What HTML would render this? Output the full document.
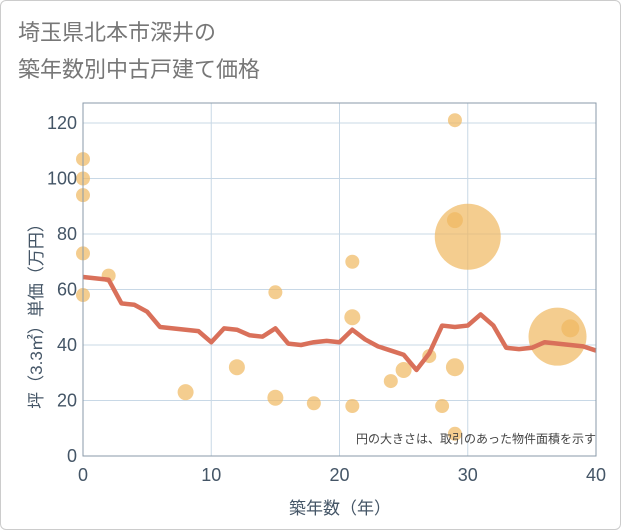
<!DOCTYPE html>
<html><head><meta charset="utf-8"><style>
body{margin:0;background:#fff;font-family:"Liberation Sans","Noto Sans CJK JP",sans-serif}
#wrap{position:relative;width:619px;height:528px;border:1px solid #ccc;border-radius:6px;overflow:hidden}
</style></head><body>
<div id="wrap">
<svg id="c" width="621" height="530" style="position:absolute;left:-1px;top:-1px">
<text x="18" y="40" font-size="22" fill="#777">埼玉県北本市深井の</text>
<text x="18" y="77" font-size="22" fill="#777">築年数別中古戸建て価格</text>
<g id="grid"></g><g id="bub"></g><g id="ln"></g><g id="ax"></g>
<rect x="83" y="103" width="513" height="353" fill="none" stroke="#8a9aa8" stroke-width="1"/>
<text x="596" y="443" font-size="12" fill="#444" text-anchor="end">円の大きさは、取引のあった物件面積を示す</text>
<text x="340" y="514" font-size="17" fill="#445566" text-anchor="middle">築年数（年）</text>
<text transform="translate(42,312) rotate(-90)" font-size="17" fill="#445566" text-anchor="middle">坪（3.3㎡）単価（万円）</text>
</svg></div>
<script>
const xTicks=[0,10,20,30,40];
const yTicks=[0,20,40,60,80,100,120];
const lineAge=[0,1,2,3,4,5,6,7,8,9,10,11,12,13,14,15,16,17,18,19,20,21,22,23,24,25,26,27,28,29,30,31,32,33,34,35,36,37,38,39,40];
const linePrice=[64.5,64,63.5,55,54.5,52,46.5,46,45.5,45,41,46,45.5,43.5,43,46,40.5,40,41,41.5,41,45.5,42,39.5,38,36.5,31,37,47,46.5,47,51,47,39,38.5,39,41,40.5,40,39.5,38];
const bubAge=[0,0,0,0,0,2,8,12,15,15,18,21,21,21,24,25,27,28,29,29,29,29,30,37,38];
const bubPrice=[107,100,94,73,58,65,23,32,59,21,19,70,50,18,27,31,36,18,121,85,32,8,79,43,46];
const bubR=[7,7,7,7,7,7,8,8,7,8,7,7,8,7,7,8,7,7,7,8,9,7,33,29,9];
const X=v=>83+v*12.825, Y=v=>456-v*2.775;
const NS='http://www.w3.org/2000/svg';
function mk(p,t,a){const e=document.createElementNS(NS,t);for(const k in a)e.setAttribute(k,a[k]);document.getElementById(p).appendChild(e);return e;}
xTicks.forEach(t=>{
 const g=mk('grid','line',{x1:X(t),x2:X(t),y1:103,y2:456,stroke:'#c8d8e6'});
 
 
 const l=mk('ax','text',{x:X(t),y:481,'font-size':18,fill:'#445566','text-anchor':'middle'});l.textContent=t;
 
 
});
yTicks.forEach(t=>{
 const g=mk('grid','line',{x1:83,x2:596,y1:Y(t),y2:Y(t),stroke:'#c8d8e6'});
 
 
 const l=mk('ax','text',{x:77,y:Y(t)+6,'font-size':18,fill:'#445566','text-anchor':'end'});l.textContent=t;
 
 
});
bubAge.forEach((a,i)=>{
 const c=mk('bub','circle',{cx:X(a),cy:Y(bubPrice[i]),r:bubR[i],fill:'#f0b860','fill-opacity':0.7});
 
 
});
const p=mk('ln','polyline',{points:lineAge.map((a,i)=>X(a)+','+Y(linePrice[i])).join(' '),fill:'none',stroke:'#d9705a','stroke-width':4.5,'stroke-linejoin':'round'});


</script>
</body></html>
